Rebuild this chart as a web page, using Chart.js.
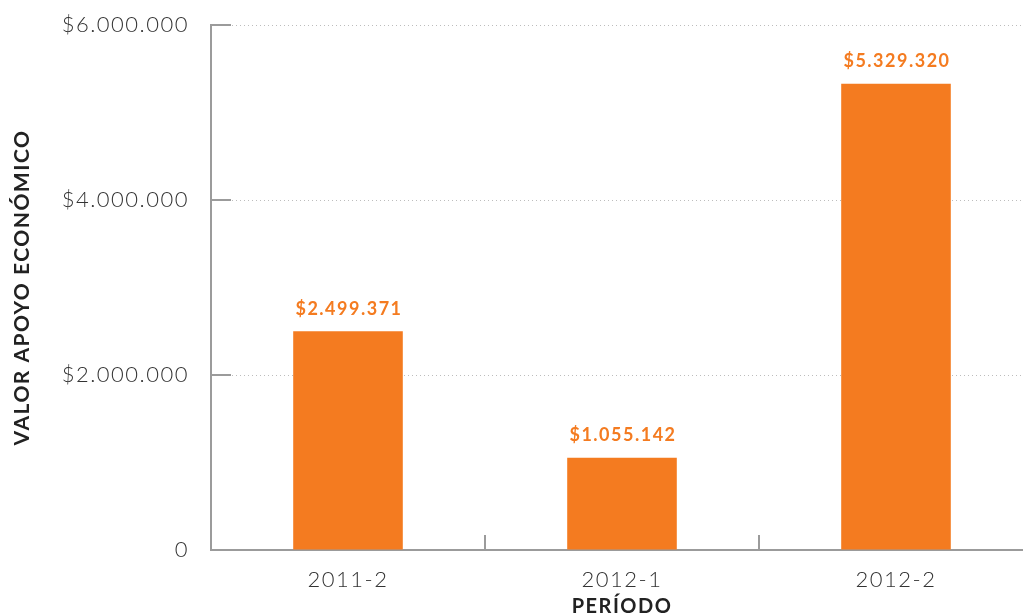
<!DOCTYPE html>
<html>
<head>
<meta charset="utf-8">
<script src="https://cdn.jsdelivr.net/npm/chart.js@4"></script>
<style>
  body { margin: 0; background: #fff; overflow: hidden; }
  #wrap { width: 1033px; height: 615px; }
</style>
</head>
<body>
<div id="wrap"><canvas id="apoyoChart"></canvas></div>
<script>
// --- DATA ---
const periodos = ['2011-2', '2012-1', '2012-2'];
const valores = [2499371, 1055142, 5329320];
const yTicks = [0, 2000000, 4000000, 6000000];

const ORANGE = '#f47b20';
const AXIS = '#9b9b9b';

// 2499371 -> "2.499.371"
function fmt(n) {
    return String(Math.round(n)).replace(/\B(?=(\d{3})+(?!\d))/g, '.');
}

// wide lettering like the original
const spacing = {
    id: 'spacing',
    beforeLayout(chart) { chart.ctx.letterSpacing = '1.5px'; },
    beforeDraw(chart) { chart.ctx.letterSpacing = '1.5px'; }
};

// inner tick marks + value labels on top of bars
const extras = {
    id: 'extras',
    afterDatasetsDraw(chart) {
        const { ctx, chartArea, scales } = chart;
        ctx.save();
        ctx.strokeStyle = AXIS;
        ctx.lineWidth = 2;
        // y ticks pointing into the plot
        yTicks.forEach(v => {
            const y = Math.round(scales.y.getPixelForValue(v));
            ctx.beginPath();
            ctx.moveTo(chartArea.left, y);
            ctx.lineTo(chartArea.left + 20, y);
            ctx.stroke();
        });
        // x ticks at category boundaries
        for (let i = 1; i < periodos.length; i++) {
            const x = Math.round((scales.x.getPixelForValue(i - 1) + scales.x.getPixelForValue(i)) / 2);
            ctx.beginPath();
            ctx.moveTo(x, chartArea.bottom);
            ctx.lineTo(x, chartArea.bottom - 15);
            ctx.stroke();
        }
        // value labels
        ctx.letterSpacing = '1.5px';
        ctx.fillStyle = ORANGE;
        ctx.font = 'bold 18px Lato, sans-serif';
        ctx.textAlign = 'center';
        ctx.textBaseline = 'middle';
        chart.getDatasetMeta(0).data.forEach((bar, i) => {
            ctx.fillText('$' + fmt(valores[i]), bar.x + 1, bar.y - 22);
        });
        ctx.restore();
    }
};

new Chart(document.getElementById('apoyoChart'), {
    type: 'bar',
    data: {
        labels: periodos,
        datasets: [{
            data: valores,
            backgroundColor: ORANGE,
            barPercentage: 0.4,
            categoryPercentage: 1
        }]
    },
    options: {
        responsive: true,
        maintainAspectRatio: false,
        animation: false,
        layout: { padding: { top: 25, right: 0, left: 0, bottom: 0 } },
        plugins: { legend: { display: false }, tooltip: { enabled: false } },
        scales: {
            x: {
                grid: { display: false },
                border: { color: AXIS, width: 2 },
                ticks: { color: '#333', font: { family: 'Lato', size: 22, weight: '300' }, padding: 9 },
                title: {
                    display: true,
                    text: 'PERÍODO',
                    color: '#222',
                    font: { family: 'Lato', size: 20, weight: 'bold' },
                    padding: { top: 0, bottom: -4 }
                },
                afterFit: s => { s.height = 65; }
            },
            y: {
                min: 0,
                max: 6000000,
                afterBuildTicks: s => { s.ticks = yTicks.map(v => ({ value: v })); },
                grid: { color: '#bdbdbd', drawTicks: false, lineWidth: 1 },
                border: { color: AXIS, width: 2, dash: [1, 3] },
                ticks: {
                    color: '#333',
                    font: { family: 'Lato', size: 22, weight: '300' },
                    padding: 22,
                    callback: v => v === 0 ? '0' : '$' + fmt(v)
                },
                title: {
                    display: true,
                    text: 'VALOR APOYO ECONÓMICO',
                    color: '#222',
                    font: { family: 'Lato', size: 21, weight: 'bold' },
                    padding: { bottom: 0, top: 10 }
                },
                afterFit: s => {
                    s.width = 211;
                    s.paddingTop = 0;
                    s.paddingBottom = 0;
                }
            }
        }
    },
    plugins: [spacing, extras]
});
</script>
</body>
</html>
